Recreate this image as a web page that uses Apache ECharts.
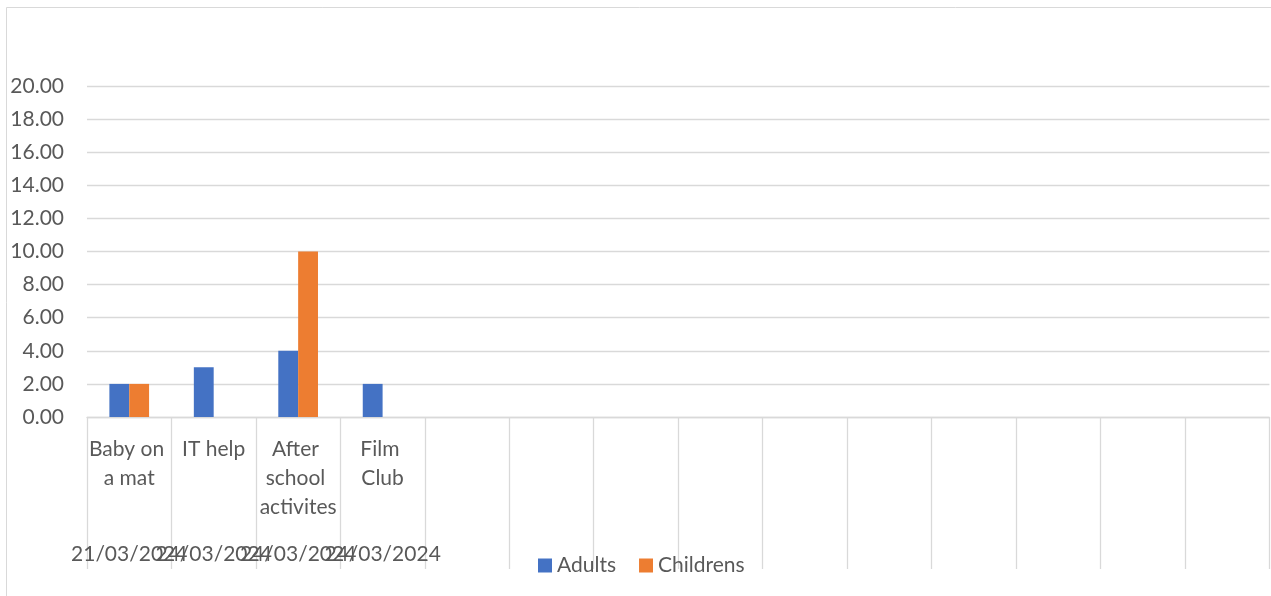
<!DOCTYPE html>
<html>
<head>
<meta charset="utf-8">
<style>
  html, body { margin: 0; padding: 0; background: #ffffff; }
  #chart { width: 1271px; height: 596px; }
</style>
<script src="https://cdn.jsdelivr.net/npm/echarts@6/dist/echarts.min.js"></script>
</head>
<body>
<div id="chart"></div>
<script>
// Activities (top row of the category axis) and their dates (second row).
const activities = ['Baby on a mat', 'IT help', 'After school activites', 'Film Club',
  '', '', '', '', '', '', '', '', '', ''];
const dates = ['21/03/2024', '24/03/2024', '24/03/2024', '24/03/2024',
  '', '', '', '', '', '', '', '', '', ''];

// Attendance counts per activity.
const adults = [2, 3, 4, 2, null, null, null, null, null, null, null, null, null, null];
const childrens = [2, null, 10, null, null, null, null, null, null, null, null, null, null, null];

const yMin = 0, yMax = 20, yStep = 2;

const FONT = 'Lato';
const TEXT = '#595959';
const LINE = '#d9d9d9';

const chart = echarts.init(document.getElementById('chart'), null, { renderer: 'canvas' });

chart.setOption({
  animation: false,
  backgroundColor: '#ffffff',
  textStyle: { fontFamily: FONT, color: TEXT },
  // chart-area frame: only its left and top edges fall inside the page
  graphic: [{
    type: 'polyline',
    shape: { points: [[6.5, 700], [6.5, 7.5], [1400, 7.5]] },
    style: { fill: null, stroke: LINE, lineWidth: 1 },
    silent: true,
    z: -10
  }],
  grid: { left: 87, top: 86, width: 1187, height: 331, containLabel: false },
  legend: {
    data: ['Adults', 'Childrens'],
    left: 533, top: 550,
    icon: 'rect',
    itemWidth: 14, itemHeight: 14, itemGap: 23,
    textStyle: { fontFamily: FONT, fontSize: 21, color: TEXT }
  },
  xAxis: [{
    type: 'category',
    data: activities,
    boundaryGap: true,
    position: 'bottom',
    axisLine: { show: true, lineStyle: { color: LINE, width: 1.3 } },
    axisTick: { show: true, length: 152, interval: 0, lineStyle: { color: LINE, width: 1.3 } },
    axisLabel: {
      interval: 0,
      margin: 18,
      fontFamily: FONT, fontSize: 21, color: TEXT,
      lineHeight: 29,
      width: 82, overflow: 'break',
      align: 'center'
    },
    splitLine: { show: false }
  }, {
    type: 'category',
    data: dates,
    boundaryGap: true,
    position: 'bottom',
    gridIndex: 0,
    axisLine: { show: false },
    axisTick: { show: false },
    axisLabel: {
      interval: 0,
      hideOverlap: false,
      margin: 123,
      fontFamily: FONT, fontSize: 21, color: TEXT,
      lineHeight: 29
    },
    splitLine: { show: false }
  }],
  yAxis: {
    type: 'value',
    min: yMin, max: yMax, interval: yStep,
    axisLine: { show: false },
    axisTick: { show: false },
    axisLabel: {
      margin: 23,
      fontFamily: FONT, fontSize: 21, color: TEXT,
      formatter: v => v.toFixed(2)
    },
    splitLine: { show: true, lineStyle: { color: LINE, width: 1.3 } }
  },
  series: [{
    name: 'Adults',
    type: 'bar',
    xAxisIndex: 0,
    data: adults,
    barGap: '0%',
    barCategoryGap: '53%',
    itemStyle: { color: '#4472C4' }
  }, {
    name: 'Childrens',
    type: 'bar',
    xAxisIndex: 0,
    data: childrens,
    barGap: '0%',
    barCategoryGap: '53%',
    itemStyle: { color: '#ED7D31' }
  }]
});
</script>
</body>
</html>
